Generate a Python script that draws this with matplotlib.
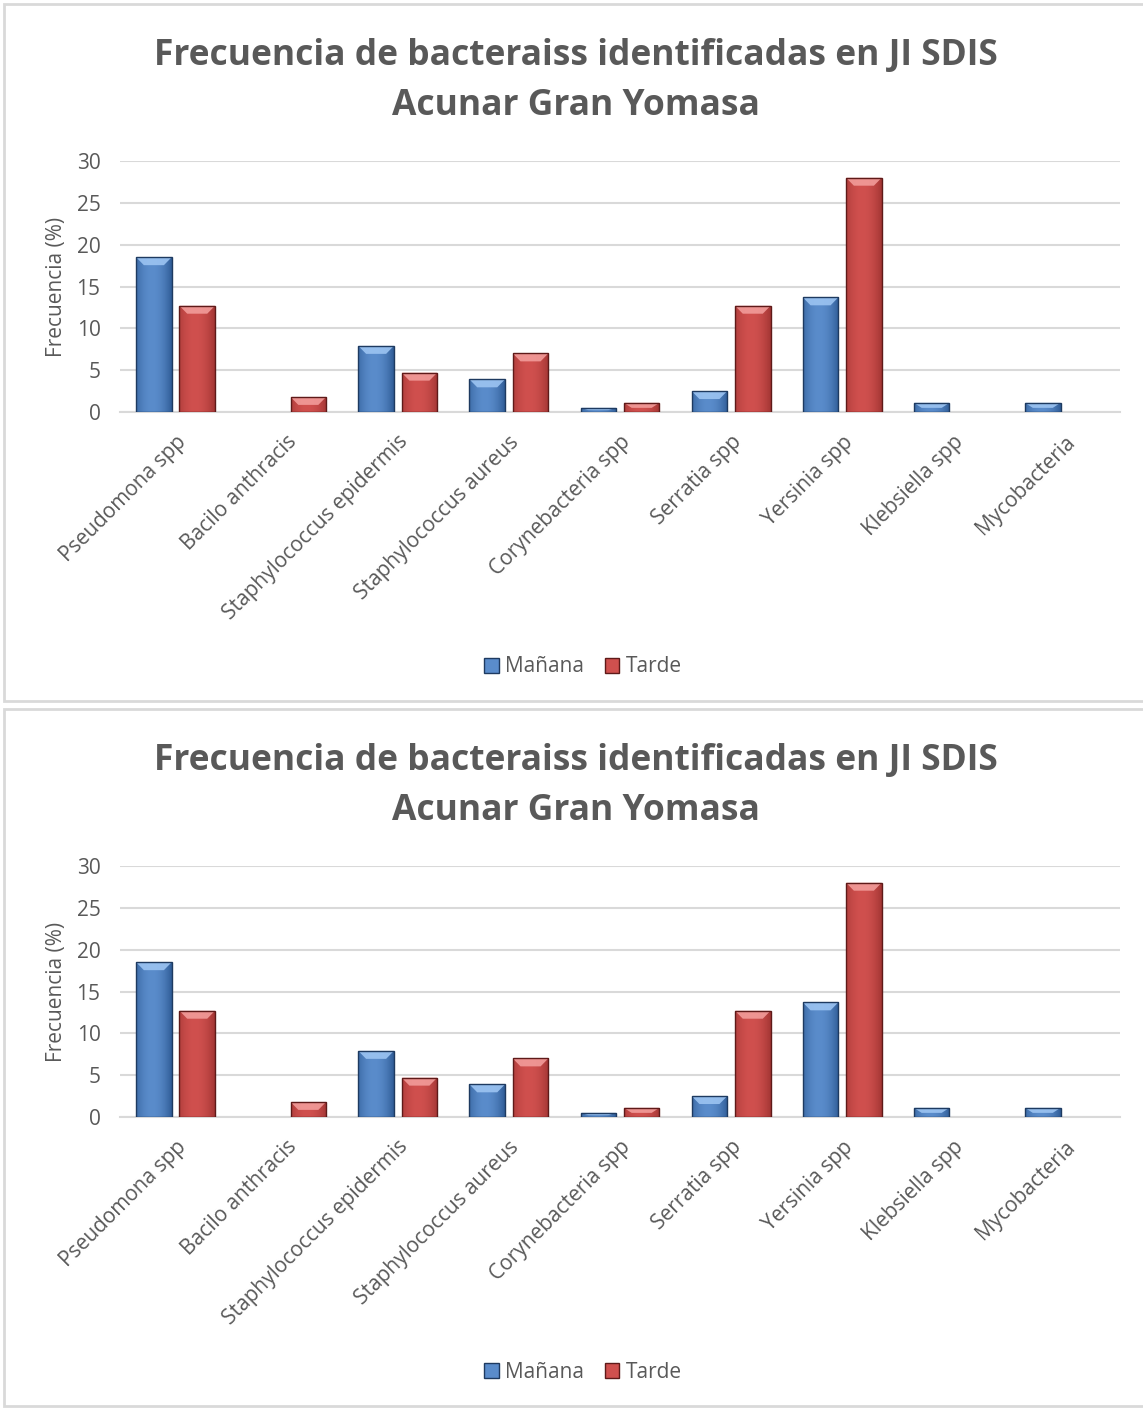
import numpy as np
import matplotlib
matplotlib.use("Agg")
import matplotlib.pyplot as plt
from matplotlib.patches import Polygon, Rectangle, Patch
from matplotlib.colors import to_rgb

plt.rcParams['font.family'] = ['Open Sans', 'DejaVu Sans']

categories = ["Pseudomona spp", "Bacilo anthracis", "Staphylococcus epidermis",
              "Staphylococcus aureus", "Corynebacteria spp", "Serratia spp",
              "Yersinia spp", "Klebsiella spp", "Mycobacteria"]
manana = [18.5, 0, 7.9, 3.9, 0.5, 2.5, 13.7, 1.1, 1.1]
tarde = [12.7, 1.8, 4.7, 7.0, 1.1, 12.7, 28.0, 0, 0]
series_names = ["Mañana", "Tarde"]
yticks = [0, 5, 10, 15, 20, 25, 30]
title = "Frecuencia de bacteraiss identificadas en JI SDIS\nAcunar Gran Yomasa"
ylabel = "Frecuencia (%)"

W, H = 1143, 1414
DPI = 100
GRAY_TXT = "#595959"
GRID = "#D9D9D9"

styles = {
    "Mañana": dict(mid="#5A8CCB", edge_dark="#2F5C96", light="#9CC4F2", line="#1E3A60"),
    "Tarde": dict(mid="#D0504E", edge_dark="#A33634", light="#F29C9A", line="#5E1A19"),
}

fig = plt.figure(figsize=(W / DPI, H / DPI), dpi=DPI)


def fx(px):
    return px / W


def fy(py):
    return 1 - py / H


def bevel_bar(ax, rect, st):
    x0, y0 = rect.get_x(), rect.get_y()
    w, h = rect.get_width(), rect.get_height()
    if h <= 0:
        return
    # horizontal shading across the bar face
    mid = np.array(to_rgb(st["mid"]))
    dark = np.array(to_rgb(st["edge_dark"]))
    t = np.linspace(0, 1, 64)
    prof = np.clip(np.abs(t - 0.45) / 0.55, 0, 1) ** 2
    img = (mid[None, :] * (1 - prof[:, None]) + dark[None, :] * prof[:, None])[None, :, :]
    im = ax.imshow(img, extent=(x0, x0 + w, y0, y0 + h), aspect="auto",
                   zorder=3, interpolation="bilinear")
    im.set_clip_path(rect)
    # lighter top bevel
    bh = min(0.95, h * 0.55)
    inset = min(0.07, w * 0.3)
    top = y0 + h
    poly = Polygon([(x0, top), (x0 + w, top), (x0 + w - inset, top - bh),
                    (x0 + inset, top - bh)], closed=True,
                   facecolor=st["light"], edgecolor="none", zorder=4, alpha=0.9)
    ax.add_patch(poly)
    # outline on top
    ax.add_patch(Rectangle((x0, y0), w, h, facecolor="none",
                           edgecolor=st["line"], linewidth=1.0, zorder=5))


def draw_panel(offset):
    # panel frame
    fig.add_artist(Rectangle((fx(4), fy(offset + 701)), fx(1150) - fx(4),
                             fy(offset + 4) - fy(offset + 701),
                             transform=fig.transFigure, facecolor="white",
                             edgecolor=GRID, linewidth=2.0, zorder=0))
    ax = fig.add_axes([fx(120), fy(offset + 412), fx(1000),
                       (412 - 161) / H])
    ax.set_zorder(1)
    ax.patch.set_alpha(0)
    x = np.arange(len(categories))
    bw = 0.32
    off = 0.195
    for vals, name, sgn in ((manana, "Mañana", -1), (tarde, "Tarde", 1)):
        st = styles[name]
        bars = ax.bar(x + sgn * off, vals, bw, color=st["mid"], zorder=2,
                      linewidth=0)
        for r in bars:
            bevel_bar(ax, r, st)
    ax.set_xlim(-0.5, len(categories) - 0.5)
    ax.set_ylim(0, 30)
    ax.set_yticks(yticks)
    ax.set_yticklabels([str(v) for v in yticks], fontsize=15, color=GRAY_TXT)
    ax.yaxis.grid(True, color=GRID, linewidth=1.5, zorder=0)
    ax.set_axisbelow(True)
    for s in ("top", "right", "left"):
        ax.spines[s].set_visible(False)
    ax.spines["bottom"].set_color(GRID)
    ax.spines["bottom"].set_linewidth(1.5)
    ax.tick_params(axis="both", length=0)
    ax.tick_params(axis="y", pad=14)
    ax.set_xticks(x)
    ax.set_xticklabels(categories, rotation=45, ha="right",
                       rotation_mode="anchor", fontsize=15, color=GRAY_TXT)
    ax.tick_params(axis="x", pad=14)
    ax.set_ylabel(ylabel, fontsize=15, color=GRAY_TXT, labelpad=7)
    fig.text(0.504, fy(offset + 81), title, ha="center", va="center",
             fontsize=25.5, fontweight="bold", color=GRAY_TXT, linespacing=1.5)
    handles = [Patch(facecolor=styles[n]["mid"], edgecolor=styles[n]["line"],
                     label=n) for n in series_names]
    fig.legend(handles=handles, loc="center", ncol=2, frameon=False,
               bbox_to_anchor=(fx(583), fy(offset + 667)), fontsize=15,
               handlelength=0.7, handleheight=0.7, handletextpad=0.3,
               columnspacing=1.0, labelcolor=GRAY_TXT)


draw_panel(0)
draw_panel(705)

fig.savefig("out.png", dpi=DPI, facecolor="white")
